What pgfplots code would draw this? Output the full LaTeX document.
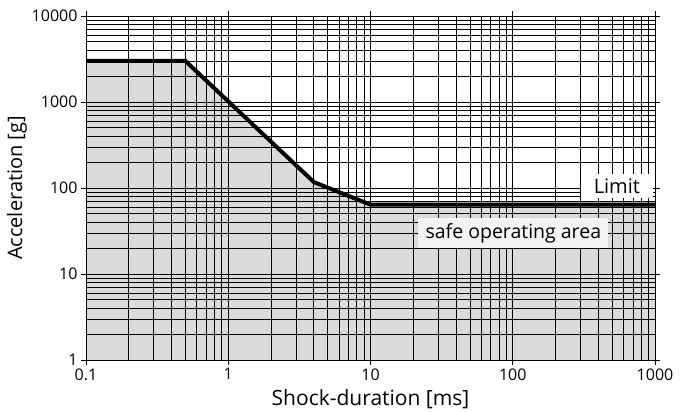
\documentclass[border=0pt]{standalone}
\usepackage{fontspec}
\setmainfont{Open Sans}
\usepackage{pgfplots}
\pgfplotsset{compat=1.18}
\definecolor{areagray}{HTML}{D9DADC}
\definecolor{boxgray}{HTML}{F3F3F3}
\begin{document}
\begin{tikzpicture}
\begin{axis}[
    set layers,
    scale only axis,
    width=569bp, height=344bp,
    xmode=log, ymode=log,
    xmin=0.1, xmax=1000, ymin=1, ymax=10000,
    xtick={0.1,1,10,100,1000},
    xticklabels={0.1,1,10,100,1000},
    ytick={1,10,100,1000,10000},
    yticklabels={1,10,100,1000,10000},
    grid=both,
    major grid style={black, line width=0.8bp},
    minor grid style={black, line width=0.8bp},
    axis line style={black, line width=0.8bp},
    tick align=outside,
    major tick length=5bp, minor tick length=0pt,
    tick style={black, line width=0.8bp},
    ticklabel style={font=\fontsize{16bp}{18bp}\selectfont},
    label style={font=\fontsize{20bp}{22bp}\selectfont},
    xlabel={Shock-duration [ms]},
    ylabel={Acceleration [g]},
    xlabel style={yshift=-2bp, font=\fontsize{21bp}{22bp}\selectfont},
    ylabel style={yshift=-2bp},
]
\addplot[on layer=axis background, fill=areagray, draw=none] coordinates {
    (0.1,1) (0.1,3000) (0.5,3000) (4,117) (10,64) (1000,64) (1000,1)
} -- cycle;
\addplot[black, line width=4bp, line join=miter] coordinates {
    (0.1,3000) (0.5,3000) (4,117) (10,64) (1000,64)
};
\node[fill=white, inner sep=0pt, minimum width=72bp, minimum height=24bp,
      font=\fontsize{20bp}{22bp}\selectfont]
      at (rel axis cs:0.933,0.506) {Limit};
\node[fill=boxgray, inner sep=0pt, minimum width=190bp, minimum height=30bp,
      font=\fontsize{19.5bp}{22bp}\selectfont]
      at (rel axis cs:0.751,0.369) {safe operating area};
\end{axis}
\pgfresetboundingbox
\path[use as bounding box] (-86bp,-52bp) rectangle (605bp,360bp);
\end{tikzpicture}
\end{document}
